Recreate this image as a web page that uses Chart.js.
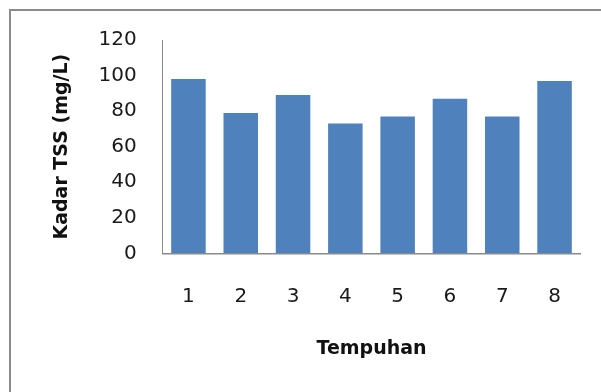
<!DOCTYPE html>
<html>
<head>
<meta charset="utf-8">
<script src="https://cdn.jsdelivr.net/npm/chart.js@4/dist/chart.umd.min.js"></script>
<style>
  html, body { margin: 0; padding: 0; background: #fff; }
  #wrap { position: relative; width: 601px; height: 392px; overflow: hidden; }
  #frame { position: absolute; left: 9px; top: 9px; width: 700px; height: 500px;
           border-left: 2px solid #8c8c8c; border-top: 2px solid #8c8c8c; }
  #c { position: absolute; left: 0; top: 0; }
</style>
</head>
<body>
<div id="wrap">
  <div id="frame"></div>
  <canvas id="c" width="601" height="392"></canvas>
</div>
<script>
// Kadar TSS per tempuhan
const categories = ['1', '2', '3', '4', '5', '6', '7', '8'];
const tssValues = [98, 79, 89, 73, 77, 87, 77, 97];
const yTicks = [0, 20, 40, 60, 80, 100, 120];

const fontFamily = '"DejaVu Sans", sans-serif';

new Chart(document.getElementById('c'), {
  type: 'bar',
  data: {
    labels: categories,
    datasets: [{
      data: tssValues,
      backgroundColor: '#4f81bd',
      borderWidth: 0,
      barPercentage: 0.66,
      categoryPercentage: 1.0
    }]
  },
  options: {
    responsive: false,
    animation: false,
    devicePixelRatio: 1,
    layout: { padding: { top: 40, right: 20.3, bottom: 0, left: 0 } },
    plugins: { legend: { display: false }, tooltip: { enabled: false } },
    scales: {
      x: {
        grid: { display: false, drawTicks: false },
        border: { display: true, color: '#8a8a8a', width: 1.5 },
        ticks: { color: '#1a1a1a', padding: 31, font: { family: fontFamily, size: 20 } },
        title: {
          display: true, text: 'Tempuhan', color: '#111',
          font: { family: fontFamily, size: 19, weight: 'bold' },
          padding: { top: 0, bottom: 32 }
        },
        afterFit: (s) => { s.height = 138.7; }
      },
      y: {
        min: 0, max: 120,
        afterBuildTicks: (s) => { s.ticks = yTicks.map(v => ({ value: v })); },
        grid: { display: false, drawTicks: false },
        border: { display: true, color: '#8a8a8a', width: 1 },
        ticks: { color: '#1a1a1a', padding: 25.6, font: { family: fontFamily, size: 20 } },
        title: {
          display: true, text: 'Kadar TSS (mg/L)', color: '#111',
          font: { family: fontFamily, size: 19, weight: 'bold' },
          padding: { top: 50.3, bottom: 0 }
        },
        afterFit: (s) => { s.width = 162.3; }
      }
    }
  }
});
</script>
</body>
</html>
